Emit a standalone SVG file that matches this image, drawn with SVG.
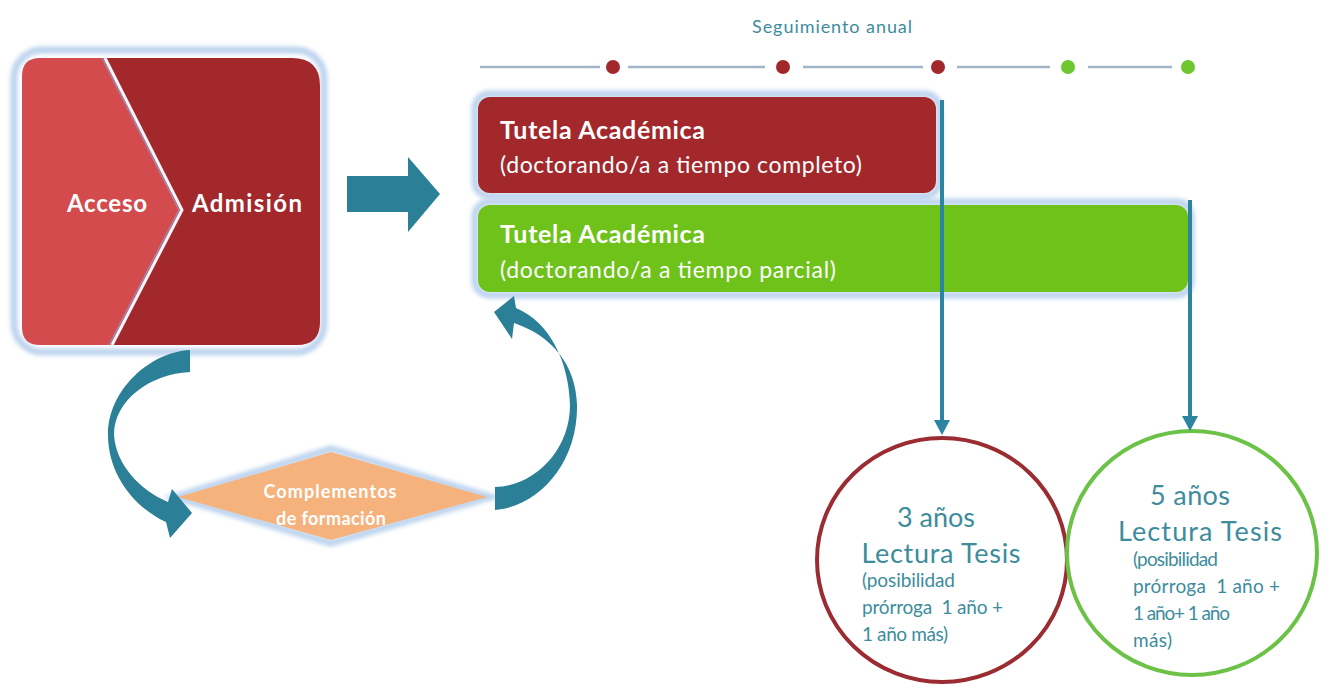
<svg xmlns="http://www.w3.org/2000/svg" width="1338" height="692" viewBox="0 0 1338 692">
<style>
text{font-family:Lato,"Open Sans","Liberation Sans",sans-serif}
.w{fill:#ffffff}
.b{font-weight:bold}
.t{fill:#3d8c9c}
.glow{fill:none;stroke:#bcd3ee;stroke-width:7}
.arr{fill:#2b7f96}
.tl{stroke:#a3b6c9;stroke-width:2.5}
.vl{stroke:#2b84a0;stroke-width:4}
.ah{fill:#2b84a0}
</style>
<defs>
<filter id="blur" x="-10%" y="-10%" width="120%" height="120%"><feGaussianBlur stdDeviation="2"/></filter>
</defs>

<g id="acceso-admision">
<rect x="14" y="50" width="310" height="302" rx="28" class="glow" filter="url(#blur)"/>
<path d="M40,58 L105,58 L182,210 L112,345 L40,345 Q22,345 22,327 L22,76 Q22,58 40,58 Z" fill="#d44b4e"/>
<path d="M105,58 L292,58 Q320,58 320,86 L320,322 Q320,345 297,345 L112,345 L182,210 Z" fill="#a2282c"/>
<path d="M105,58 L182,210 L112,345" fill="none" stroke="#f4f6fb" stroke-width="3"/>
<path d="M102,58 L179,210 L109,345" fill="none" stroke="#8c9bd0" stroke-width="1.5" opacity="0.7"/>
<text x="107" y="212" font-size="24" text-anchor="middle" class="w b" textLength="80">Acceso</text>
<text x="247" y="212" font-size="24" text-anchor="middle" class="w b" textLength="110">Admisión</text>
</g>

<g id="tutela-completo">
<rect x="475" y="94" width="464" height="102" rx="14" class="glow" filter="url(#blur)"/>
<rect x="478" y="97" width="458" height="96" rx="12" fill="#a2282c"/>
<text x="500" y="139" font-size="25" class="w b" textLength="205">Tutela Académica</text>
<text x="500" y="173" font-size="23" class="w" textLength="362">(doctorando/a a tiempo completo)</text>
</g>

<g id="tutela-parcial">
<rect x="475" y="202" width="716" height="93" rx="14" class="glow" filter="url(#blur)"/>
<rect x="478" y="205" width="710" height="87" rx="12" fill="#6ec21a"/>
<text x="500" y="243" font-size="25" class="w b" textLength="205">Tutela Académica</text>
<text x="500" y="278" font-size="23" class="w" textLength="336">(doctorando/a a tiempo parcial)</text>
</g>

<g id="seguimiento">
<text x="832" y="33" font-size="18" text-anchor="middle" class="t" textLength="160">Seguimiento anual</text>
<line x1="480" y1="67" x2="600" y2="67" class="tl"/>
<line x1="628" y1="67" x2="765" y2="67" class="tl"/>
<line x1="803" y1="67" x2="923" y2="67" class="tl"/>
<line x1="957" y1="67" x2="1050" y2="67" class="tl"/>
<line x1="1088" y1="67" x2="1172" y2="67" class="tl"/>
<circle cx="613" cy="67" r="7" fill="#a2282c"/>
<circle cx="783" cy="67" r="7" fill="#a2282c"/>
<circle cx="938" cy="67" r="7" fill="#a2282c"/>
<circle cx="1068" cy="67" r="7" fill="#6ec630"/>
<circle cx="1188" cy="67" r="7" fill="#6ec630"/>
</g>

<g id="complementos">
<path d="M175,497 L331,449 L490,497 L331,543 Z" class="glow" filter="url(#blur)"/>
<path d="M178,497 L331,452 L487,497 L331,540 Z" fill="#f5b27d"/>
<text x="330" y="498" font-size="18" text-anchor="middle" class="w b" textLength="133">Complementos</text>
<text x="331" y="525" font-size="18" text-anchor="middle" class="w b" textLength="110">de formación</text>
</g>

<g id="tesis-3">
<ellipse cx="942" cy="560" rx="125" ry="122" fill="none" stroke="#9b2c31" stroke-width="4"/>
<text x="936" y="527" font-size="27" text-anchor="middle" class="t" textLength="78">3 años</text>
<text x="941" y="563" font-size="27" text-anchor="middle" class="t" textLength="159">Lectura Tesis</text>
<text x="862" y="587" font-size="19" class="t" textLength="93">(posibilidad</text>
<text x="862" y="614" font-size="19" class="t" textLength="141" xml:space="preserve">prórroga  1 año +</text>
<text x="862" y="641" font-size="19" class="t" textLength="86">1 año más)</text>
</g>

<g id="tesis-5">
<ellipse cx="1192" cy="553" rx="125" ry="122" fill="none" stroke="#6cc247" stroke-width="4"/>
<text x="1190" y="505" font-size="27" text-anchor="middle" class="t" textLength="80">5 años</text>
<text x="1200" y="541" font-size="27" text-anchor="middle" class="t" textLength="164">Lectura Tesis</text>
<text x="1133" y="566" font-size="19" class="t" textLength="85">(posibilidad</text>
<text x="1133" y="593" font-size="19" class="t" textLength="147" xml:space="preserve">prórroga  1 año +</text>
<text x="1133" y="620" font-size="19" class="t" textLength="97">1 año+ 1 año</text>
<text x="1133" y="647" font-size="19" class="t" textLength="39">más)</text>
</g>

<g id="connectors">
<path d="M347,176 L408,176 L408,157 L440,194 L408,232 L408,212 L347,212 Z" class="arr"/>
<line x1="942" y1="100" x2="942" y2="422" class="vl"/>
<path d="M934,420 L950,420 L942,435 Z" class="ah"/>
<line x1="1190" y1="200" x2="1190" y2="418" class="vl"/>
<path d="M1182,416 L1198,416 L1190,431 Z" class="ah"/>
<path d="M190,350 C150,352 108,390 108,435 C108,475 135,508 166,522 L170,538 L192,513 L172,489 L168,502 C140,490 116,465 114,435 C114,400 150,374 190,372 Z" class="arr"/>
<path d="M495,510 C540,506 578,462 577,405 C576,366 553,336 514,323 L512,339 L494,312 L514,296 L516,308 C550,322 569,362 570,405 C570,450 535,486 495,487 Z" class="arr"/>
</g>
</svg>
